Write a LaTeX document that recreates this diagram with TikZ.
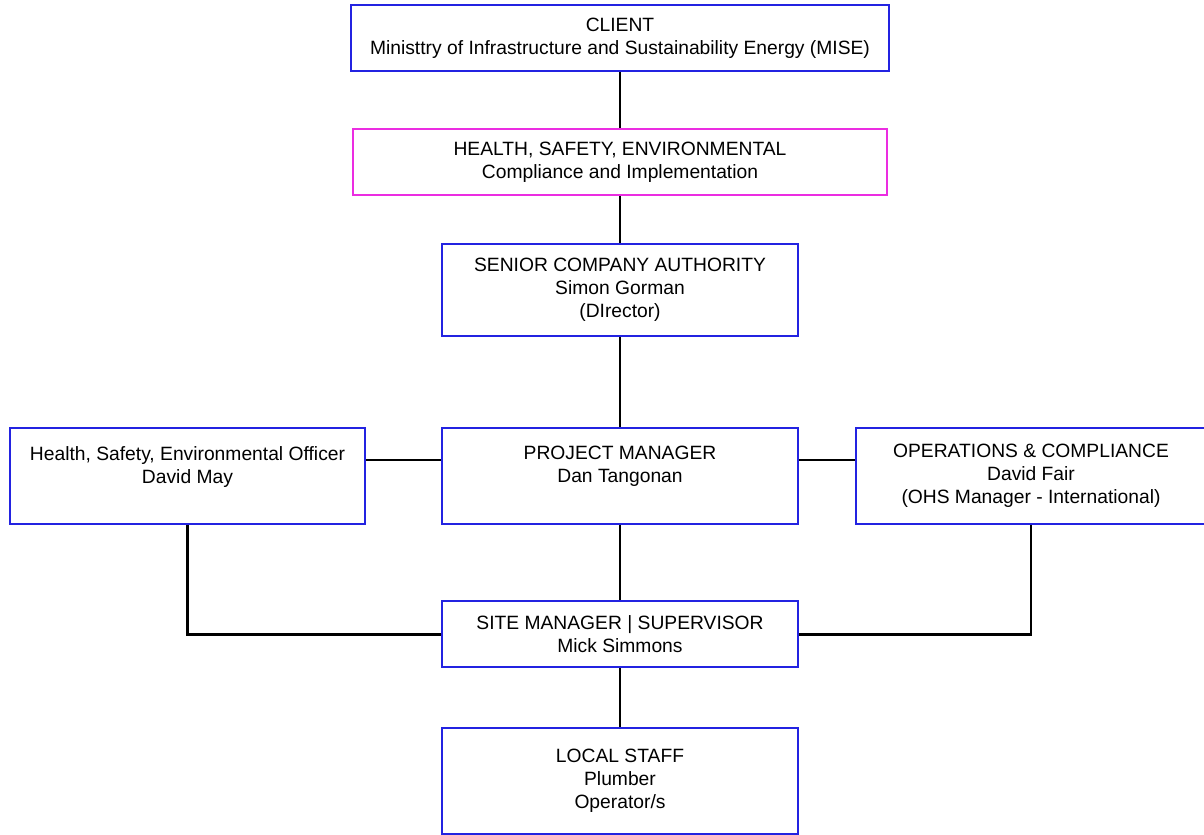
\documentclass[tikz,border=0pt]{standalone}
\usepackage{fontspec}
\setmainfont{Liberation Sans}
\usepackage{xcolor}
\usepackage{tikz}
\usetikzlibrary{positioning, calc}
\definecolor{boxblue}{RGB}{35,35,225}
\definecolor{boxpink}{RGB}{235,45,225}
\tikzstyle{role} = [rectangle, minimum width=8.9cm, align=center, draw=boxblue, line width=1.3pt, fill=white, inner sep=2pt, font=\fontsize{13.7}{16.3}\selectfont]
\tikzstyle{hse} = [role, draw=boxpink]
\tikzstyle{link} = [line width=2pt, black]

\begin{document}
\begin{tikzpicture}
    \useasboundingbox (0,0) rectangle (30.1,-20.875);
    % Top of the chart
    \node (client) [role, minimum width=13.45cm, minimum height=1.65cm] at (15.5,-0.95) {CLIENT\\Ministtry of Infrastructure and Sustainability Energy (MISE)};
    \node (hsec) [hse, minimum width=13.35cm, minimum height=1.65cm, below=1.405cm of client] {HEALTH, SAFETY, ENVIRONMENTAL\\Compliance and Implementation};
    \node (sca) [role, minimum height=2.3cm, below=1.18cm of hsec] {SENIOR COMPANY AUTHORITY\\Simon Gorman\\(DIrector)};

    % Middle row
    \node (pm) [role, minimum height=2.4cm, below=2.255cm of sca] {PROJECT MANAGER\\Dan Tangonan\\\mbox{}};
    \node (hseo) [role, minimum width=8.875cm, minimum height=2.4cm, left=1.88cm of pm] {Health, Safety, Environmental Officer\\David May\\\mbox{}};
    \node (ops) [role, minimum width=8.75cm, minimum height=2.4cm, right=1.405cm of pm] {OPERATIONS \& COMPLIANCE\\David Fair\\(OHS Manager - International)};

    % Site level
    \node (site) [role, minimum height=1.65cm, below=1.88cm of pm] {SITE MANAGER | SUPERVISOR\\Mick Simmons};
    \node (staff) [role, minimum height=2.65cm, below=1.48cm of site] {LOCAL STAFF\\Plumber\\Operator/s};

    % Connectors
    \draw [link] (client) -- (hsec);
    \draw [link] (hsec) -- (sca);
    \draw [link] (sca) -- (pm);
    \draw [link] ([yshift=0.4cm]hseo.east) -- ([yshift=0.4cm]pm.west);
    \draw [link] ([yshift=0.4cm]pm.east) -- ([yshift=0.4cm]ops.west);
    \draw [link] (pm) -- (site);
    \draw [link] (hseo.south) |- (site.west);
    \draw [link] (ops.south) |- (site.east);
    \draw [link] (site) -- (staff);
\end{tikzpicture}
\end{document}
